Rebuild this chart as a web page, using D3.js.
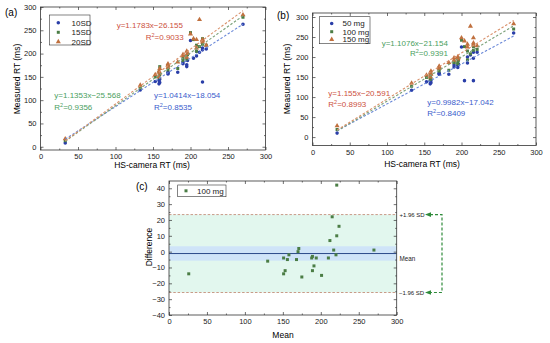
<!DOCTYPE html>
<html>
<head>
<meta charset="utf-8">
<script src="https://cdn.jsdelivr.net/npm/d3@7"></script>
<style>
body{margin:0;background:#fff;}
svg{font-family:Arial,"Liberation Sans",sans-serif;}
</style>
</head>
<body>
<svg id="chart" width="550" height="343"></svg>
<script>
// ---- data ----
var hsX   = [33,133,153,158,158,159,159,170,170,170,183,190,190,195,195,196,200,204,208,208,212,216,216,216,221,270];
// (a) spectral density
var sd10  = [8,122,140,135,142,138,145,156,160,158,160,178,182,172,176,185,228,190,205,195,203,139,212,208,210,263];
var sd15  = [13,126,150,148,160,155,172,165,172,175,168,190,185,195,188,198,245,230,218,205,215,225,220,232,218,278];
var sd20  = [17,132,155,150,162,158,168,170,178,175,182,195,198,205,192,200,242,232,230,212,273,230,228,225,218,283];
// (b) dose
var mg50  = [10,117,138,133,140,136,142,157,160,158,157,175,180,178,174,182,225,141,185,200,205,141,197,212,212,260];
var mg100 = [19,127,149,144,153,147,157,165,170,172,167,186,187,183,186,192,242,226,193,215,208,226,217,232,219,270];
var mg150 = [28,135,155,150,160,157,165,172,177,175,186,192,198,200,195,198,248,240,225,232,277,235,248,230,228,283];
// linear fits
var namesA  = ["10SD","15SD","20SD"];
var slopeA  = [1.0414,1.1353,1.1783];
var interA  = [-18.054,-25.568,-26.155];
var r2A     = ["0.8535","0.9356","0.9033"];
var namesB  = ["50 mg","100 mg","150 mg"];
var slopeB  = [0.9982,1.1076,1.155];
var interB  = [-17.042,-21.154,-20.591];
var r2B     = ["0.8409","0.9391","0.8993"];
// (c) Bland-Altman, 100 mg
var baMean = [26,130,151,153,151,156,158,168,170,171,175,188,189,189,191,194,201,210,212,215,217,220,221,221,224,270];
var baDiff = [-14,-6,-4,-12,-14,-5,-2,-5,0,2,-16,-4,-3,-12,-9,-4,-15,-4,7,22,1,-2,10,42,16,1];
var baUpper = 23.4, baBias = -1.2, baLower = -25.8;
var baCI = [-5.7, 3.4];

var xTicks = [0,50,100,150,200,250,300];
var yTicks = [0,50,100,150,200,250,300];
var baYTicks = [-40,-30,-20,-10,0,10,20,30,40];

var cBlue = "#2a3ea8", cGreen = "#4b7d45", cRed = "#c0703e";
var tBlue = "#3a5ccc", tGreen = "#4aa060", tRed = "#cc5040";
var lBlue = "#6a88d8", lGreen = "#7aa078", lRed = "#d8906a";

var svg = d3.select("#chart");

function midpoints(arr){
    var out = [];
    for(var i=0; i<arr.length-1; i++) out.push((arr[i]+arr[i+1])/2);
    return out;
}

// frame + inward ticks on all four sides
function frame(g, x, y, w, h, xt, yt){
    var fs = 7.5;
    var ax = [
        [d3.axisBottom(x).tickValues(xt).tickSize(-3).tickPadding(4), "translate(0,"+h+")"],
        [d3.axisBottom(x).tickValues(midpoints(xt)).tickSize(-1.5).tickFormat(""), "translate(0,"+h+")"],
        [d3.axisTop(x).tickValues(xt).tickSize(-3).tickFormat(""), "translate(0,0)"],
        [d3.axisTop(x).tickValues(midpoints(xt)).tickSize(-1.5).tickFormat(""), "translate(0,0)"],
        [d3.axisLeft(y).tickValues(yt).tickSize(-3).tickPadding(4), "translate(0,0)"],
        [d3.axisLeft(y).tickValues(midpoints(yt)).tickSize(-1.5).tickFormat(""), "translate(0,0)"],
        [d3.axisRight(y).tickValues(yt).tickSize(-3).tickFormat(""), "translate("+w+",0)"],
        [d3.axisRight(y).tickValues(midpoints(yt)).tickSize(-1.5).tickFormat(""), "translate("+w+",0)"]
    ];
    for(var i=0; i<ax.length; i++){
        var a = g.append("g").attr("transform", ax[i][1]).call(ax[i][0]);
        a.select(".domain").remove();
        a.selectAll("line").attr("stroke","#333").attr("stroke-width",0.7);
        a.selectAll("text").attr("font-size",fs).attr("fill","#222").attr("font-family","Arial, Liberation Sans");
    }
    g.append("rect")
     .attr("x",0).attr("y",0).attr("width",w).attr("height",h)
     .attr("fill","none").attr("stroke","#333").attr("stroke-width",0.8);
}

function r2text(g, px, py, val, col){
    var t = g.append("text").attr("x",px).attr("y",py).attr("fill",col).attr("font-size",8);
    t.append("tspan").text("R");
    t.append("tspan").attr("dy",-3).attr("font-size",5.5).text("2");
    t.append("tspan").attr("dy",3).text("="+val);
}

function eqtext(g, px, py, s, b, col){
    g.append("text").attr("x",px).attr("y",py).attr("fill",col).attr("font-size",8)
     .text("y="+s+"x\u2212"+Math.abs(b).toFixed(3));
}

var shapes = [d3.symbolCircle, d3.symbolSquare, d3.symbolTriangle];
var sizes  = [10, 9, 11];
var mcol   = [cBlue, cGreen, cRed];
var lcol   = [lBlue, lGreen, lRed];

function scatterPanel(left, top, right, bottom, yDom, series, slopes, inters){
    var w = right-left, h = bottom-top;
    var g = svg.append("g").attr("transform","translate("+left+","+top+")");
    var x = d3.scaleLinear().domain([0,300]).range([0,w]);
    var y = d3.scaleLinear().domain(yDom).range([h,0]);
    frame(g, x, y, w, h, xTicks, yTicks);
    var x0 = d3.min(hsX), x1 = d3.max(hsX);
    for(var s=0; s<series.length; s++){
        g.append("g").selectAll("path")
         .data(series[s])
         .join("path")
         .attr("transform", function(d,i){ return "translate("+x(hsX[i])+","+y(d)+")"; })
         .attr("d", d3.symbol().type(shapes[s]).size(sizes[s]))
         .attr("fill", mcol[s]);
    }
    for(var s=0; s<series.length; s++){
        g.append("line")
         .attr("x1",x(x0)).attr("y1",y(slopes[s]*x0+inters[s]))
         .attr("x2",x(x1)).attr("y2",y(slopes[s]*x1+inters[s]))
         .attr("stroke",lcol[s]).attr("stroke-width",1.1)
         .attr("stroke-dasharray","2.5,1.8");
    }
    return g;
}

function legend(lx, ly, w, h, names, rows, symx, textx){
    svg.append("rect").attr("x",lx).attr("y",ly).attr("width",w).attr("height",h)
       .attr("fill","#fff").attr("stroke","#333").attr("stroke-width",0.6);
    for(var i=0; i<names.length; i++){
        svg.append("path")
           .attr("transform","translate("+symx+","+rows[i]+")")
           .attr("d", d3.symbol().type(shapes[i]).size(sizes[i]))
           .attr("fill", mcol[i]);
        svg.append("text").attr("x",textx).attr("y",rows[i]+2.8)
           .attr("font-size",8).attr("fill","#222").text(names[i]);
    }
}

// ---- (a) ----
scatterPanel(40.5, 7, 265.5, 150, [-7,300], [sd10,sd15,sd20], slopeA, interA);
legend(49.3, 15, 40.7, 30, namesA, [22.7,32.3,41.7], 58.3, 71.5);
eqtext(svg, 116.7, 28, slopeA[2], interA[2], tRed);
r2text(svg, 145.7, 39.5, r2A[2], tRed);
eqtext(svg, 54.3, 98, slopeA[1], interA[1], tGreen);
r2text(svg, 54.3, 109.5, r2A[1], tGreen);
eqtext(svg, 154, 98, slopeA[0], interA[0], tBlue);
r2text(svg, 154, 109.5, r2A[0], tBlue);
svg.append("text").attr("x",5).attr("y",16).attr("font-size",10).text("(a)");
svg.append("text").attr("transform","translate(20,79) rotate(-90)")
   .attr("text-anchor","middle").attr("font-size",8.5).text("Measured RT (ms)");
svg.append("text").attr("x",152).attr("y",168).attr("text-anchor","middle")
   .attr("font-size",8.5).text("HS-camera RT (ms)");

// ---- (b) ----
scatterPanel(312.5, 13, 536, 145.5, [-21,310], [mg50,mg100,mg150], slopeB, interB);
legend(319.3, 16.7, 50.7, 27, namesB, [23.5,31.7,39.5], 331.7, 342.5);
eqtext(svg, 381.7, 45.5, slopeB[1], interB[1], tGreen);
r2text(svg, 410, 56, r2B[1], tGreen);
eqtext(svg, 328.3, 95.5, slopeB[2], interB[2], tRed);
r2text(svg, 328.3, 106.5, r2B[2], tRed);
eqtext(svg, 427.3, 104.5, slopeB[0], interB[0], tBlue);
r2text(svg, 427.3, 116, r2B[0], tBlue);
svg.append("text").attr("x",277).attr("y",19).attr("font-size",10).text("(b)");
svg.append("text").attr("transform","translate(290,79) rotate(-90)")
   .attr("text-anchor","middle").attr("font-size",8.5).text("Measured RT (ms)");
svg.append("text").attr("x",422).attr("y",167).attr("text-anchor","middle")
   .attr("font-size",8.5).text("HS-camera RT (ms)");

// ---- (c) Bland-Altman ----
var cl = 169, ct = 181, cw = 396.7-169, ch = 315-181;
var gc = svg.append("g").attr("transform","translate("+cl+","+ct+")");
var xc = d3.scaleLinear().domain([0,300]).range([0,cw]);
var yc = d3.scaleLinear().domain([-40,44.6]).range([ch,0]);

gc.append("rect").attr("x",0).attr("width",cw)
  .attr("y",yc(baUpper)).attr("height",yc(baLower)-yc(baUpper))
  .attr("fill","#e2f7ee");
gc.append("rect").attr("x",0).attr("width",cw)
  .attr("y",yc(baCI[1])).attr("height",yc(baCI[0])-yc(baCI[1]))
  .attr("fill","#cfe4f8");
var lims = [baUpper, baLower];
for(var i=0; i<lims.length; i++){
    gc.append("line").attr("x1",0).attr("x2",cw)
      .attr("y1",yc(lims[i])).attr("y2",yc(lims[i]))
      .attr("stroke","#c4907c").attr("stroke-width",0.9)
      .attr("stroke-dasharray","2.5,1.8");
}
gc.append("line").attr("x1",0).attr("x2",cw)
  .attr("y1",yc(baBias)).attr("y2",yc(baBias))
  .attr("stroke","#2c4a8a").attr("stroke-width",1);

gc.append("g").selectAll("path")
  .data(baDiff)
  .join("path")
  .attr("transform", function(d,i){ return "translate("+xc(baMean[i])+","+yc(d)+")"; })
  .attr("d", d3.symbol().type(d3.symbolSquare).size(9))
  .attr("fill", cGreen);

frame(gc, xc, yc, cw, ch, xTicks, baYTicks);

svg.append("rect").attr("x",177.7).attr("y",185).attr("width",48.3).attr("height",11.7)
   .attr("fill","#fff").attr("stroke","#333").attr("stroke-width",0.6);
svg.append("path").attr("transform","translate(186,190.8)")
   .attr("d", d3.symbol().type(d3.symbolSquare).size(9)).attr("fill",cGreen);
svg.append("text").attr("x",197).attr("y",193.7).attr("font-size",8).attr("fill","#222").text("100 mg");

svg.append("text").attr("x",136).attr("y",190).attr("font-size",10).text("(c)");
svg.append("text").attr("transform","translate(152,247) rotate(-90)")
   .attr("text-anchor","middle").attr("font-size",8.5).text("Difference");
svg.append("text").attr("x",283).attr("y",338).attr("text-anchor","middle")
   .attr("font-size",8.5).text("Mean");

// right side labels + green bracket
var yUp = ct + yc(baUpper), yLo = ct + yc(baLower), yMe = ct + yc(baBias);
svg.append("text").attr("x",399.5).attr("y",yUp+2.2).attr("font-size",6).attr("fill","#222").text("+1.96 SD");
svg.append("text").attr("x",399.5).attr("y",yMe+7).attr("font-size",6.3).attr("fill","#222").text("Mean");
svg.append("text").attr("x",399).attr("y",yLo+2.2).attr("font-size",6).attr("fill","#222").text("\u22121.96 SD");

var gb = "#2e8a3a";
svg.append("path")
   .attr("d","M430,"+yUp+" H442 V"+yLo+" H430")
   .attr("fill","none").attr("stroke",gb).attr("stroke-width",1.2)
   .attr("stroke-dasharray","3,2");
var ends = [yUp, yLo];
for(var i=0; i<ends.length; i++){
    svg.append("path")
       .attr("d","M425,"+ends[i]+" L431,"+(ends[i]-2.3)+" L431,"+(ends[i]+2.3)+" Z")
       .attr("fill",gb);
}
</script>
</body>
</html>
